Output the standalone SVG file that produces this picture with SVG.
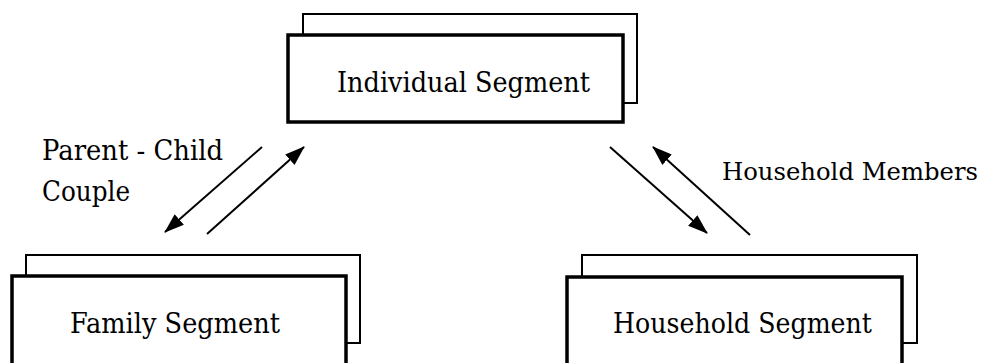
<svg xmlns="http://www.w3.org/2000/svg" width="989" height="363" viewBox="0 0 989 363">
<style>
.back{fill:#fff;stroke:#000;stroke-width:2}
.front{fill:#fff;stroke:#000;stroke-width:3.5}
.t{font-family:"DejaVu Serif","Liberation Serif",serif;font-size:27px;fill:#000}
.s{font-size:25px}
.c{stroke:#000;stroke-width:2;fill:none;marker-end:url(#ah)}
</style>
<defs>
<marker id="ah" viewBox="0 0 20 14" refX="19" refY="7" markerWidth="20" markerHeight="14" markerUnits="userSpaceOnUse" orient="auto">
<path d="M0,0 L20,7 L0,14 Z" fill="#000"/>
</marker>
</defs>
<rect width="989" height="363" fill="#fff"/>
<g id="individual">
<rect class="back" x="303" y="14" width="334" height="89"/>
<rect class="front" x="288" y="35" width="335" height="87"/>
<text class="t" x="337" y="92" textLength="253" lengthAdjust="spacingAndGlyphs">Individual Segment</text>
</g>
<g id="family">
<rect class="back" x="26" y="255" width="334" height="88"/>
<rect class="front" x="12" y="276" width="334" height="100"/>
<text class="t" x="70" y="333" textLength="210" lengthAdjust="spacingAndGlyphs">Family Segment</text>
</g>
<g id="household">
<rect class="back" x="582" y="255" width="335" height="88"/>
<rect class="front" x="567" y="277" width="335" height="100"/>
<text class="t" x="613" y="333" textLength="259" lengthAdjust="spacingAndGlyphs">Household Segment</text>
</g>
<g id="connectors">
<line class="c" x1="262" y1="147" x2="165" y2="232"/>
<line class="c" x1="207" y1="234" x2="304" y2="147"/>
<line class="c" x1="610" y1="147" x2="707" y2="233"/>
<line class="c" x1="750" y1="235" x2="653" y2="147"/>
</g>
<g id="labels">
<text class="t" x="42" y="160" textLength="181" lengthAdjust="spacingAndGlyphs">Parent - Child</text>
<text class="t" x="42" y="201" textLength="88" lengthAdjust="spacingAndGlyphs">Couple</text>
<text class="t s" x="722" y="180" textLength="256" lengthAdjust="spacingAndGlyphs">Household Members</text>
</g>
</svg>
